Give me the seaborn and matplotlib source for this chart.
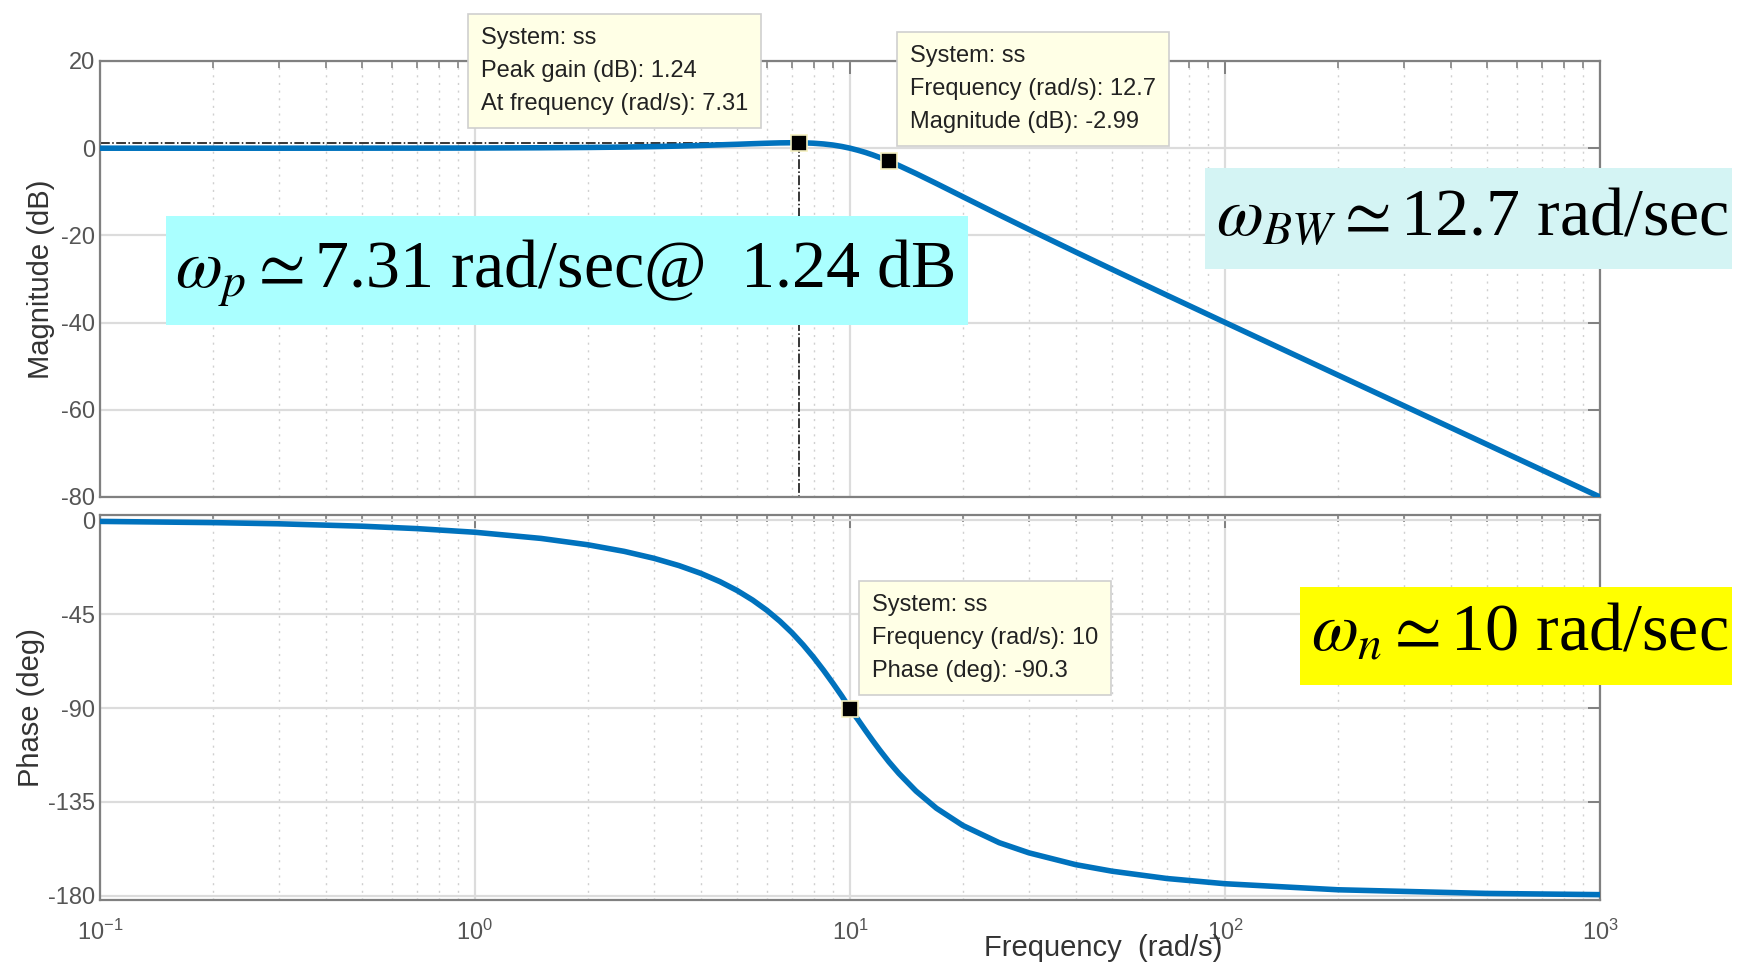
import matplotlib
matplotlib.use("Agg")
import matplotlib.pyplot as plt
import matplotlib.ticker as mticker
from matplotlib.patches import Rectangle
import seaborn as sns

# frequency (rad/s) and readings taken off the Bode plot
freq = [0.1, 0.2, 0.3, 0.5, 0.7, 1, 1.5, 2, 2.5, 3, 3.5, 4, 4.5, 5, 5.5, 6,
        6.5, 7, 7.5, 8, 8.5, 9, 9.5, 10, 10.5, 11, 11.5, 12, 12.7, 13.5, 15,
        17, 20, 25, 30, 40, 50, 70, 100, 200, 500, 1000]
mag_db = [0.0, 0.0, 0.0, 0.01, 0.02, 0.04, 0.10, 0.17, 0.26, 0.37, 0.49, 0.63,
          0.77, 0.90, 1.03, 1.14, 1.22, 1.25, 1.23, 1.14, 0.97, 0.73, 0.40,
          0.0, -0.47, -0.98, -1.54, -2.13, -2.99, -3.98, -5.81, -8.10, -11.14,
          -15.29, -18.63, -23.82, -27.79, -33.72, -39.96, -52.03, -67.96,
          -80.0]
phase_deg = [-0.57, -1.15, -1.72, -2.87, -4.02, -5.77, -8.72, -11.77, -14.93,
             -18.25, -21.75, -25.46, -29.44, -33.69, -38.26, -43.15, -48.38,
             -53.9, -59.74, -65.77, -71.92, -78.08, -84.14, -90.3, -95.58,
             -100.8, -105.66, -110.14, -115.8, -121.35, -129.8, -138.03,
             -146.3, -154.54, -159.4, -165.07, -168.2, -171.7, -174.2, -177.1,
             -178.85, -179.43]

# data tip points
peak_w, peak_db = 7.31, 1.24
bw_w, bw_db = 12.7, -2.99
wn_w, wn_ph = 10, -90.3

mag_ticks = [-80, -60, -40, -20, 0, 20]
phase_ticks = [-180, -135, -90, -45, 0]

sns.set_style("white")
plt.rcParams["font.family"] = ["Liberation Sans", "DejaVu Sans"]
plt.rcParams["mathtext.fontset"] = "stix"
plt.rcParams["axes.unicode_minus"] = False

W, H = 1738, 963
fig = plt.figure(figsize=(W / 100, H / 100), dpi=100)

def fx(px):
    return px / W

def fy(py):
    return 1 - py / H

ax1 = fig.add_axes([fx(100), fy(497), fx(1600 - 100), fy(61) - fy(497)])
ax2 = fig.add_axes([fx(100), fy(900), fx(1600 - 100), fy(515) - fy(900)])

blue = "#0072BD"
grey = "#555555"

for ax in (ax1, ax2):
    ax.set_xscale("log")
    ax.set_xlim(0.1, 1000)
    ax.xaxis.set_major_locator(mticker.LogLocator(base=10))
    ax.xaxis.set_minor_locator(mticker.LogLocator(base=10, subs=range(2, 10)))
    ax.grid(True, which="major", color="#dcdcdc", lw=1.6)
    ax.grid(True, which="minor", color="#d0d0d0", lw=1.0, ls=(0, (1.5, 4)))
    ax.tick_params(which="both", direction="in", top=True, right=True,
                   colors="#808080", labelcolor=grey, labelsize=17)
    ax.tick_params(which="major", length=9, width=1.4)
    ax.tick_params(which="minor", length=5, width=1.2)
    for s in ax.spines.values():
        s.set_color("#808080")
        s.set_linewidth(1.6)
    ax.set_axisbelow(True)

# magnitude
sns.lineplot(x=freq, y=mag_db, ax=ax1, color=blue, lw=4, sort=False,
             zorder=3)
ax1.set_ylim(-80, 20)
ax1.set_yticks(mag_ticks)
ax1.tick_params(axis="x", labelbottom=False)
ax1.set_ylabel("Magnitude (dB)", fontsize=21, color="#333333", labelpad=4)
ax1.plot([0.1, peak_w], [peak_db, peak_db], color="k", lw=1.1, ls="-.",
         zorder=2)
ax1.plot([peak_w, peak_w], [peak_db, -80], color="k", lw=1.1, ls="-.",
         zorder=2)
ax1.plot([peak_w, bw_w], [peak_db, bw_db], ls="none", marker="s", ms=11,
         mfc="k", mec="#f5f0c0", mew=1.2, zorder=5)

# phase
sns.lineplot(x=freq, y=phase_deg, ax=ax2, color=blue, lw=4, sort=False,
             zorder=3)
ax2.set_ylim(-182, 2.5)
ax2.set_yticks(phase_ticks)
ax2.set_ylabel("Phase (deg)", fontsize=21, color="#333333", labelpad=2)
ax2.plot([wn_w], [wn_ph], ls="none", marker="s", ms=11, mfc="k",
         mec="#f5f0c0", mew=1.2, zorder=5)
ax2.tick_params(axis="x", pad=14)
fig.text(fx(1103), fy(948), "Frequency  (rad/s)", fontsize=21,
         color="#333333", ha="center", va="center")

# data tips
tip_style = dict(boxstyle="square,pad=0.55", fc="#ffffe6", ec="#cfcfcf", lw=1.2)
tip_kw = dict(fontsize=17, color="#222222", ha="left", va="top",
              linespacing=1.65, bbox=tip_style)
fig.text(fx(481), fy(27),
         "System: ss\nPeak gain (dB): 1.24\nAt frequency (rad/s): 7.31", **tip_kw)
fig.text(fx(910), fy(45),
         "System: ss\nFrequency (rad/s): 12.7\nMagnitude (dB): -2.99", **tip_kw)
fig.text(fx(872), fy(594),
         "System: ss\nFrequency (rad/s): 10\nPhase (deg): -90.3", **tip_kw)

# highlighted notes
boxes = [
    (166, 216, 968, 325, "#aaffff"),
    (1205, 168, 1732, 269, "#d4f4f4"),
    (1300, 587, 1732, 685, "#ffff00"),
]
for x0, y0, x1, y1, c in boxes:
    fig.patches.append(Rectangle((fx(x0), fy(y1)), fx(x1 - x0), fy(y0) - fy(y1),
                                 transform=fig.transFigure, fc=c, ec="none",
                                 zorder=10))

big = dict(fontsize=49, family="Liberation Serif", color="k", ha="left",
           va="baseline", zorder=11)
fig.text(fx(175), fy(288), r"$\omega_p \simeq$7.31 rad/sec@  1.24 dB", **big)
fig.text(fx(1216), fy(235), r"$\omega_{BW} \simeq$12.7 rad/sec", **big)
fig.text(fx(1311), fy(651), r"$\omega_n \simeq$10 rad/sec", **big)

fig.savefig("out.png", dpi=100)
